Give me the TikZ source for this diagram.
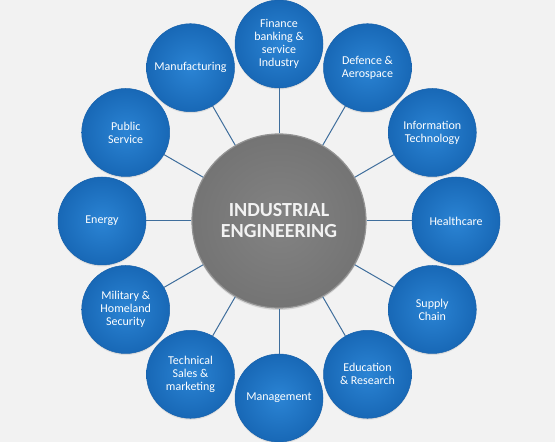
\documentclass[tikz,border=0pt]{standalone}
\usepackage{fontspec}
\setmainfont{Carlito}
\usetikzlibrary{shadows}
\definecolor{bg}{HTML}{F2F2F2}
\definecolor{blueIn}{HTML}{2B84D4}
\definecolor{blueOut}{HTML}{1868B6}
\definecolor{blueEdge}{HTML}{1862AC}
\definecolor{grayIn}{HTML}{838383}
\definecolor{grayOut}{HTML}{747474}
\definecolor{grayEdge}{HTML}{939393}
\definecolor{linkc}{HTML}{3F6E9C}
\begin{document}
\begin{tikzpicture}[x=1pt,y=1pt,
  sat/.style={circle, minimum size=88pt, inner sep=0pt, align=center,
    text=white, font=\fontsize{12}{13}\selectfont,
    inner color=blueIn, outer color=blueOut, draw=blueEdge, line width=0.5pt,
    drop shadow={opacity=0.18, shadow xshift=0pt, shadow yshift=-1.5pt}},
  hub/.style={circle, minimum size=174pt, inner sep=0pt, align=center,
    text=bg, font=\fontsize{20}{21}\selectfont\bfseries,
    inner color=grayIn, outer color=grayOut, draw=grayEdge, line width=1.2pt,
    drop shadow={opacity=0.25, shadow xshift=0pt, shadow yshift=-2pt}},
  link/.style={draw=linkc, line width=1pt}]
\fill[bg] (0,0) rectangle (555,442);
\useasboundingbox (0,0) rectangle (555,442);
\node[hub] (c) at (279,221) {INDUSTRIAL\\ENGINEERING};
\node[sat] (n1)  at ([shift={(90:177)}]279,221)  {Finance\\banking \&\\service\\Industry};
\node[sat] (n2)  at ([shift={(60:177)}]279,221)  {Defence \&\\Aerospace};
\node[sat] (n3)  at ([shift={(30:177)}]279,221)  {Information\\Technology};
\node[sat] (n4)  at ([shift={(0:177)}]279,221)   {Healthcare};
\node[sat] (n5)  at ([shift={(-30:177)}]279,221) {Supply\\Chain};
\node[sat] (n6)  at ([shift={(-60:177)}]279,221) {Education\\\& Research};
\node[sat] (n7)  at ([shift={(-90:177)}]279,221) {Management};
\node[sat] (n8)  at ([shift={(-120:177)}]279,221) {Technical\\Sales \&\\marketing};
\node[sat] (n9)  at ([shift={(-150:177)}]279,221) {Military \&\\Homeland\\Security};
\node[sat] (n10) at ([shift={(180:177)}]279,221) {Energy};
\node[sat] (n11) at ([shift={(150:177)}]279,221) {Public\\Service};
\node[sat] (n12) at ([shift={(120:177)}]279,221) {Manufacturing};
\foreach \n in {n1,n2,n3,n4,n5,n6,n7,n8,n9,n10,n11,n12}
  \draw[link] (c) -- (\n);
\end{tikzpicture}
\end{document}
